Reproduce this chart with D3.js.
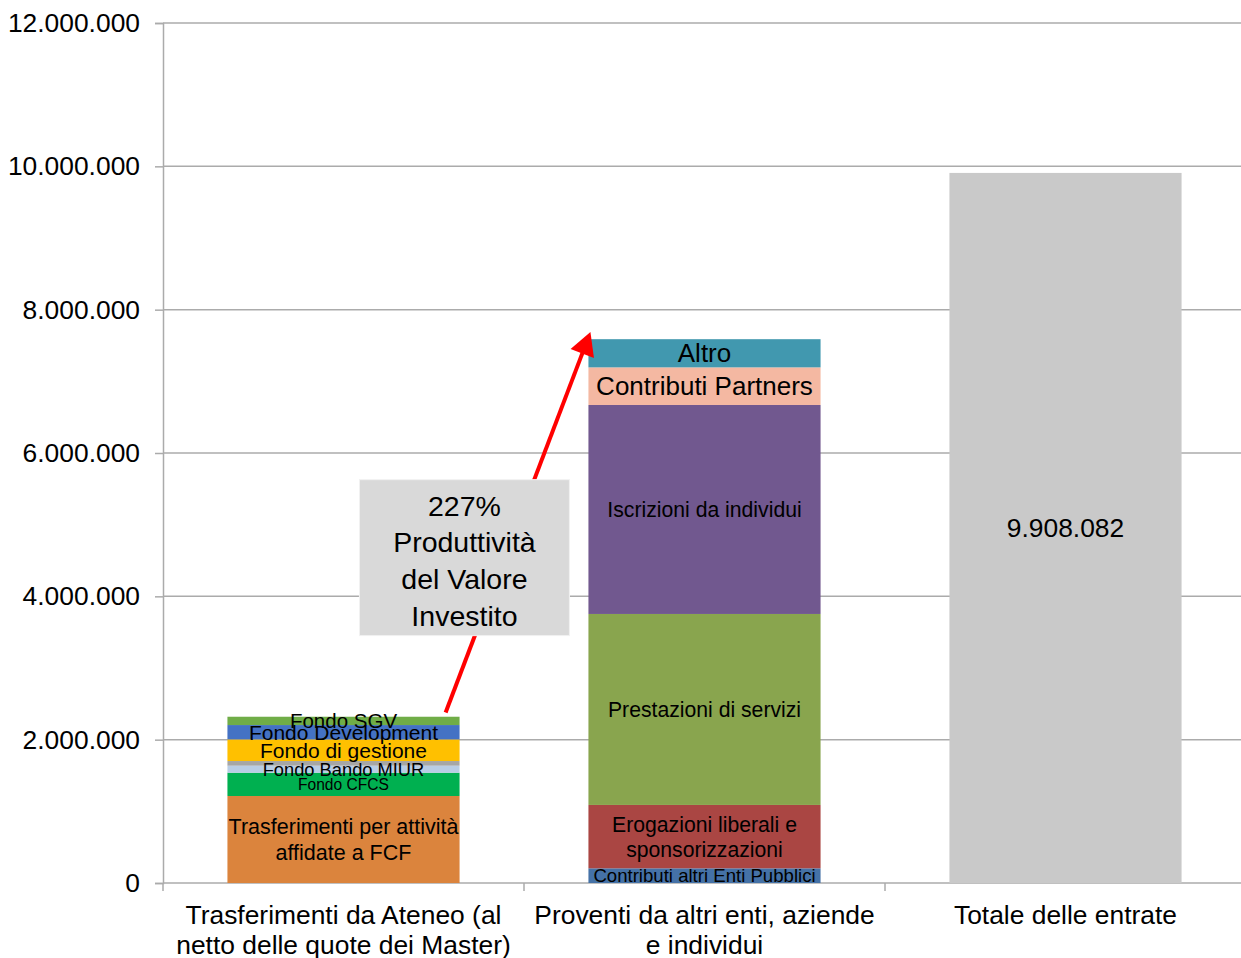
<!DOCTYPE html>
<html>
<head>
<meta charset="utf-8">
<script src="https://d3js.org/d3.v7.min.js"></script>
<style>
  body { margin: 0; background: #fff; }
  svg { display: block; font-family: "Liberation Sans", Arial, sans-serif; }
</style>
</head>
<body>
<svg id="svg" width="1241" height="958"></svg>
<script>

// categories on the x axis
var categories = ["Trasferimenti da Ateneo (al\nnetto delle quote dei Master)",
                  "Proventi da altri enti, aziende\ne individui",
                  "Totale delle entrate"];

// first bar, bottom to top
var ateneoNames = ["Trasferimenti per attività\naffidate a FCF", "Fondo CFCS", "Fondo Bando MIUR",
                   "Altri fondi", "Fondo di gestione", "Fondo Development", "Fondo SGV"];
var ateneoValues = [1214000, 325000, 98000, 65000, 302000, 200000, 116000];

// second bar, bottom to top
var proventiNames = ["Contributi altri Enti Pubblici", "Erogazioni liberali e\nsponsorizzazioni",
                     "Prestazioni di servizi", "Iscrizioni da individui", "Contributi Partners", "Altro"];
var proventiValues = [205000, 884000, 2665000, 2916000, 525000, 393082];

// third bar
var totaleValue = 9908082;

var yTicks = [0, 2000000, 4000000, 6000000, 8000000, 10000000, 12000000];

var annotationLines = ["227%", "Produttività", "del Valore", "Investito"];

// styles
var ateneoColors = ["#db843d", "#00b050", "#b9cde5", "#a6a6a6", "#ffc000", "#4472c4", "#70ad47"];
var ateneoFont = [21.5, 15.6, 18.3, 0, 21, 21, 20.5];
var proventiColors = ["#4572a7", "#aa4643", "#89a54e", "#71588f", "#f4b8a2", "#4198af"];
var proventiFont = [18.6, 21.2, 21.2, 21.2, 26, 26];

var svg = d3.select("svg");
var plotLeft = 163, plotRight = 1246, plotTop = 23, plotBottom = 883;

var x = d3.scaleBand()
  .domain(categories)
  .range([plotLeft, plotRight])
  .paddingInner(0.357)
  .paddingOuter(0.1785);
var step = x.step();

var y = d3.scaleLinear()
  .domain([0, 12000000])
  .range([plotBottom, plotTop]);

var it = d3.formatLocale({decimal: ",", thousands: ".", grouping: [3], currency: ["€", ""]});
var fmt = it.format(",.0f");

// gridlines
svg.append("g")
  .selectAll("line")
  .data(yTicks.slice(1))
  .enter().append("line")
    .attr("x1", plotLeft).attr("x2", 1241)
    .attr("y1", function(d) { return y(d); })
    .attr("y2", function(d) { return y(d); })
    .attr("stroke", "#ababab")
    .attr("stroke-width", 1.5);

// y axis
var yAxis = svg.append("g")
  .attr("transform", "translate(" + plotLeft + ",0)")
  .call(d3.axisLeft(y).tickValues(yTicks).tickFormat(fmt).tickSize(8).tickPadding(15));
yAxis.select(".domain").attr("stroke", "#ababab").attr("stroke-width", 1.5);
yAxis.selectAll(".tick line").attr("stroke", "#ababab").attr("stroke-width", 1.5);
yAxis.selectAll("text")
  .attr("font-family", "Liberation Sans, Arial, sans-serif")
  .attr("font-size", 26.4).attr("fill", "#000");

// x axis line and ticks at category boundaries
svg.append("line")
  .attr("x1", plotLeft).attr("x2", 1241)
  .attr("y1", y(0)).attr("y2", y(0))
  .attr("stroke", "#ababab").attr("stroke-width", 1.5);
svg.append("g")
  .selectAll("line")
  .data(d3.range(categories.length + 1))
  .enter().append("line")
    .attr("x1", function(i) { return plotLeft + i * step; })
    .attr("x2", function(i) { return plotLeft + i * step; })
    .attr("y1", y(0)).attr("y2", y(0) + 8)
    .attr("stroke", "#ababab").attr("stroke-width", 1.5);

// category labels
svg.append("g")
  .selectAll("text")
  .data(categories)
  .enter().append("text")
    .attr("text-anchor", "middle")
    .attr("font-size", 26.4)
    .attr("fill", "#000")
    .each(function(d) {
      var t = d3.select(this);
      d.split("\n").forEach(function(line, i) {
        t.append("tspan")
          .attr("x", x(d) + x.bandwidth() / 2)
          .attr("y", plotBottom + 41 + i * 29.5)
          .text(line);
      });
    });

function stackOf(names, values, colors, fonts) {
  var acc = 0;
  return names.map(function(n, i) {
    var s = {name: n, y0: acc, y1: acc + values[i], color: colors[i], font: fonts[i]};
    acc += values[i];
    return s;
  });
}

var stacks = [
  {cat: categories[0], segs: stackOf(ateneoNames, ateneoValues, ateneoColors, ateneoFont)},
  {cat: categories[1], segs: stackOf(proventiNames, proventiValues, proventiColors, proventiFont)},
  {cat: categories[2], segs: [{name: fmt(totaleValue), y0: 0, y1: totaleValue, color: "#c9c9c9", font: 26.4}]}
];

var bars = svg.append("g");
stacks.forEach(function(st) {
  bars.append("g")
    .selectAll("rect")
    .data(st.segs)
    .enter().append("rect")
      .attr("x", x(st.cat))
      .attr("width", x.bandwidth())
      .attr("y", function(d) { return y(d.y1); })
      .attr("height", function(d) { return y(d.y0) - y(d.y1); })
      .attr("fill", function(d) { return d.color; });
});

// segment labels
stacks.forEach(function(st) {
  st.segs.filter(function(d) { return d.font > 0; }).forEach(function(d) {
    var lines = d.name.split("\n");
    var lh = d.font * 1.18;
    var cy = (y(d.y0) + y(d.y1)) / 2;
    var t = bars.append("text")
      .attr("text-anchor", "middle")
      .attr("font-size", d.font)
      .attr("fill", "#000");
    lines.forEach(function(line, i) {
      t.append("tspan")
        .attr("x", x(st.cat) + x.bandwidth() / 2)
        .attr("y", cy + (i - (lines.length - 1) / 2) * lh)
        .attr("dy", "0.35em")
        .text(line);
    });
  });
});

// arrow from first bar to top of second bar
var ateneoTot = d3.sum(ateneoValues), proventiTot = d3.sum(proventiValues);
var ax0 = x(categories[0]) + x.bandwidth() * 0.94, ay0 = y(ateneoTot + 60000);
var ax1 = x(categories[1]) + 2, ay1 = y(proventiTot + 100000);
var adx = ax1 - ax0, ady = ay1 - ay0, alen = Math.sqrt(adx * adx + ady * ady);
var ux = adx / alen, uy = ady / alen;
var headL = 23, headW = 12.5;
var bx = ax1 - ux * headL, by = ay1 - uy * headL;

svg.append("line")
  .attr("x1", ax0).attr("y1", ay0)
  .attr("x2", bx + ux * 2).attr("y2", by + uy * 2)
  .attr("stroke", "#ff0000").attr("stroke-width", 4);
svg.append("polygon")
  .attr("points", [[ax1, ay1], [bx - uy * headW, by + ux * headW], [bx + uy * headW, by - ux * headW]].join(" "))
  .attr("fill", "#ff0000");

// annotation box
var boxW = 210, boxH = 156;
var boxCx = x(categories[0]) + x.bandwidth() / 2 + step * 0.335;
var boxCy = y(4540000);
svg.append("rect")
  .attr("x", boxCx - boxW / 2).attr("y", boxCy - boxH / 2)
  .attr("width", boxW).attr("height", boxH)
  .attr("fill", "#d9d9d9")
  .attr("stroke", "#f2f2f2").attr("stroke-width", 1);
svg.append("g")
  .selectAll("text")
  .data(annotationLines)
  .enter().append("text")
    .attr("x", boxCx)
    .attr("y", function(d, i) { return boxCy + 3 + (i - 1.5) * 36.6; })
    .attr("dy", "0.35em")
    .attr("text-anchor", "middle")
    .attr("font-size", 28.5)
    .attr("fill", "#000")
    .text(function(d) { return d; });

</script>
</body>
</html>
